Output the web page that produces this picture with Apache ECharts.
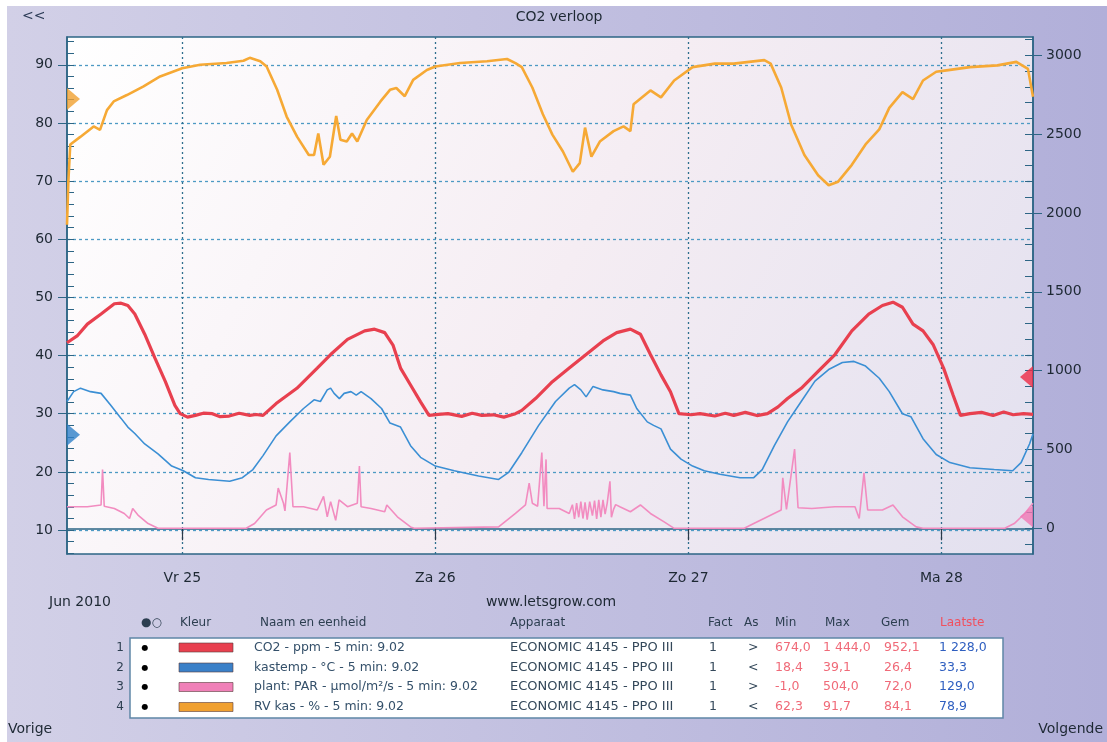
<!DOCTYPE html>
<html><head><meta charset="utf-8">
<script src="https://cdn.jsdelivr.net/npm/echarts@6/dist/echarts.min.js"></script>
<style>html,body{margin:0;padding:0;background:#fff;} #c{width:1107px;height:742px;}</style>
</head><body><div id="c"></div>
<script>
// ---------- axis / tick data ----------
const xMinHour = 13.07;            // 24 Jun ~13:04 (hours from 24 Jun 00:00)
const xMaxHour = 104.68;           // 28 Jun ~08:41
const dayTicks = [24, 48, 72, 96];
const dayLabels = ['Vr 25', 'Za 26', 'Zo 27', 'Ma 28'];
const leftTicks = [10, 20, 30, 40, 50, 60, 70, 80, 90];
const leftMinorTicks = [6,8,10,12,14,16,18,20,22,24,26,28,30,32,34,36,38,40,42,44,46,48,50,52,54,56,58,60,62,64,66,68,70,72,74,76,78,80,82,84,86,88,90,92,94];
const rightTicks = [0, 500, 1000, 1500, 2000, 2500, 3000];
const rightMinorTicks = [-100,0,100,200,300,400,500,600,700,800,900,1000,1100,1200,1300,1400,1500,1600,1700,1800,1900,2000,2100,2200,2300,2400,2500,2600,2700,2800,2900,3000,3100];

// ---------- series data (hours from 24 Jun 2010 00:00, value) ----------
// RV kas - % (left axis)
const rvHours = [13.07,13.2,13.38,14.33,15.6,16.2,16.86,17.5,18.75,20.33,21.9,24,25.7,28.2,29.8,30.4,31.4,32,33,33.9,34.9,36,36.5,36.9,37.4,38,38.6,39,39.6,40.1,40.6,41.5,42.8,43.7,44.3,45.1,45.9,47.2,48,50.35,52.9,54.8,55.6,56.2,57.2,58.2,59.1,60.1,61.04,61.7,62.2,62.8,63.6,64.9,65.85,66.5,66.8,68.4,69.4,70.65,72.4,74.5,76.3,79.2,79.8,80.8,81.75,83,84.3,85.3,86.2,87.5,88.8,90.1,91.05,92.3,93.3,94.25,95.5,96.3,98.7,101.3,103.1,104.2,104.68];
const rvValues = [62.5,70,76.3,77.6,79.4,78.8,82.2,83.7,84.8,86.3,88,89.4,90,90.3,90.7,91.2,90.6,89.7,85.7,81.1,77.6,74.5,74.5,78.2,72.8,74.2,81.2,77.1,76.8,78.2,76.8,80.5,83.7,85.7,86,84.6,87.4,89.1,89.7,90.3,90.6,91,90.3,89.6,86.1,81.5,78,75.1,71.6,73.1,79.2,74.2,76.8,78.6,79.4,78.6,83.2,85.6,84.4,87.3,89.6,90.2,90.2,90.8,90.2,86.1,79.7,74.5,71,69.3,69.9,72.8,76.3,78.9,82.6,85.3,84.1,87.3,88.8,89,89.6,89.9,90.5,89.3,84.5];
// kastemp - °C (left axis)
const tempHours = [13.07,13.7,14.35,15.3,16.3,17.2,18.2,18.84,19.5,20.44,21.7,23,24.1,25.25,26.5,28.5,29.7,30.7,31.66,32.9,34.2,35.5,36.5,37.1,37.75,38.07,38.4,38.9,39.35,40,40.5,40.96,41.9,42.9,43.7,44.7,45.65,46.6,48,49.8,52.1,54,54.95,56.2,57.8,59.4,60.7,61.2,61.8,62.3,62.96,63.9,64.9,65.5,66.5,67.1,68.1,68.7,69.4,70.3,71.3,72.4,73.5,75,76.9,78.2,79,80.15,81.4,82.7,84,85.3,86.6,87.7,88.8,90.1,91.05,92.3,93.1,94.25,95.5,96.8,98.7,101,102.75,103.55,104.35,104.68];
const tempValues = [32.1,33.8,34.4,33.8,33.5,31.5,29.2,27.7,26.6,24.8,23.1,21,20.2,19,18.7,18.4,19,20.4,22.8,26.2,28.6,30.9,32.4,32.1,34.1,34.4,33.5,32.6,33.5,33.8,33.2,33.8,32.6,30.9,28.4,27.7,24.5,22.5,21,20.2,19.3,18.7,19.9,23.3,28,32.1,34.4,35,34.1,32.9,34.7,34.1,33.8,33.5,33.2,30.9,28.6,28,27.4,23.9,22.2,21,20.2,19.6,19,19,20.4,24.5,28.6,32.1,35.6,37.6,38.8,39,38.2,36.1,33.8,30,29.5,25.7,23,21.6,20.7,20.4,20.2,21.6,24.8,26.5];
// CO2 - ppm (right axis)
const co2Hours = [13.07,14.03,15,16.3,17.56,18.2,18.84,19.5,20.44,21.4,22.4,23.3,23.8,24.5,25.25,26,26.85,27.6,28.45,29.4,30.4,31,31.66,32.9,34.87,36.8,38.07,39.67,41.3,42.24,43.2,44,44.7,45.65,46.6,47.4,48.3,49.2,50.5,51.5,52.4,53.5,54.5,55.6,56.2,57.5,59.1,60.7,62.3,63.9,65.2,66.5,67.45,68.4,69.4,70.3,71.1,72.25,73.1,74.5,75.5,76.3,77.4,78.5,79.5,80.5,81.4,82.7,84.3,85.9,87.5,89.1,90.4,91.4,92.3,93.3,94.25,95.2,96.2,97.1,97.8,98.7,99.8,100.9,101.9,102.8,103.8,104.68];
const co2Values = [1177,1220,1295,1359,1424,1428,1413,1359,1231,1081,930,780,727,705,716,730,727,708,712,730,716,722,716,791,888,1016,1102,1198,1252,1263,1241,1160,1016,909,802,716,722,727,710,730,716,720,705,727,748,823,930,1016,1102,1188,1241,1263,1231,1102,973,866,727,720,727,712,730,716,735,715,727,770,823,888,995,1102,1252,1359,1413,1434,1402,1295,1252,1166,1016,845,716,727,735,715,738,720,727,722];
// plant PAR - µmol/m²/s (right axis)
const parHours = [13.07,15,16.3,16.44,16.6,17.56,18.5,19,19.3,19.8,20.76,21.7,25.25,30.06,30.86,31.98,32.9,33.1,33.6,33.74,34.2,34.5,35.5,36.8,37.4,37.75,38.07,38.55,38.87,39.67,40.6,40.8,40.96,41.9,43.2,43.4,44.4,45.65,46,54,55.6,56.55,56.9,57.2,57.7,58.1,58.3,58.5,58.6,59.75,60.7,61,61.2,61.4,61.6,61.8,62,62.2,62.4,62.64,62.9,63.1,63.3,63.5,63.7,63.9,64.1,64.3,64.56,64.7,64.9,65.1,65.5,66.5,67.45,68.4,69.7,70.65,77.3,78.2,79.5,80.8,80.95,81.3,82.07,82.4,83.7,85.9,87.8,88.2,88.65,89,90.4,91.4,92.3,93.6,94.25,102,102.9,103.9,104.68];
const parValues = [137,137,148,373,140,126,94,62,126,84,30,0,0,0,30,116,148,255,159,110,480,137,137,116,202,73,169,51,180,137,159,395,137,126,105,148,73,9,0,9,94,148,287,159,140,480,140,437,126,126,94,150,60,159,70,170,62,165,55,169,80,175,60,180,70,180,90,160,298,70,120,150,137,105,148,94,41,0,0,30,73,116,320,120,502,130,126,137,137,62,352,116,116,148,73,9,0,0,30,94,159];

// value markers on the axes
const leftMarkerValues = [84.1, 26.4];     // RV, kastemp
const rightMarkerValues = [960, 75];       // CO2, PAR

// ---------- legend table ----------
const rowNames = ['CO2 - ppm - 5 min: 9.02', 'kastemp - \u00B0C - 5 min: 9.02', 'plant: PAR - \u00B5mol/m\u00B2/s - 5 min: 9.02', 'RV kas - % - 5 min: 9.02'];
const rowDevices = ['ECONOMIC 4145 - PPO III', 'ECONOMIC 4145 - PPO III', 'ECONOMIC 4145 - PPO III', 'ECONOMIC 4145 - PPO III'];
const rowFact = ['1', '1', '1', '1'];
const rowAxis = ['>', '<', '>', '<'];
const rowMin = ['674,0', '18,4', '-1,0', '62,3'];
const rowMax = ['1 444,0', '39,1', '504,0', '91,7'];
const rowGem = ['952,1', '26,4', '72,0', '84,1'];
const rowLast = ['1 228,0', '33,3', '129,0', '78,9'];
const headers = ['\u25CF\u25CB', 'Kleur', 'Naam en eenheid', 'Apparaat', 'Fact', 'As', 'Min', 'Max', 'Gem', 'Laatste'];

const cRed = '#e8404f', cBlue = '#3b8fd4', cPink = '#f28cc0', cOrange = '#f6a935';
const swatch = [cRed, '#3a80c8', '#f080b8', '#f0a030'];
const FONT = '"DejaVu Sans", sans-serif';
const txtCol = '#1d2833';

function pairs(hs, vs) { return hs.map((h, i) => [h, vs[i]]); }

const chart = echarts.init(document.getElementById('c'), null, {renderer: 'canvas', width: 1107, height: 742});

const graphics = [];
graphics.push({type: 'rect', z: -10, silent: true, shape: {x: 7, y: 6, width: 1100, height: 736},
  style: {fill: new echarts.graphic.LinearGradient(0, 0, 1, 0, [{offset: 0, color: '#d2d0e7'}, {offset: 1, color: '#b1afd9'}])}});
graphics.push({type: 'rect', z: -9, silent: true, shape: {x: 67, y: 37, width: 966, height: 517},
  style: {fill: new echarts.graphic.LinearGradient(0, 0, 1, 1, [{offset: 0, color: '#ffffff'}, {offset: 0.5, color: '#f5edf3'}, {offset: 1, color: '#e2e0ef'}])}});
function txt(text, x, y, size, color, align, weight) {
  graphics.push({type: 'text', x: x, y: y, z: 10, silent: true,
    style: {text: text, fill: color || txtCol, font: (weight || 'normal') + ' ' + size + 'px ' + FONT,
      textAlign: align || 'left', textVerticalAlign: 'middle'}});
}
txt('<<', 22, 16, 14, '#2a3a55');
txt('CO2 verloop', 559, 17, 14, txtCol, 'center');
txt('Jun 2010', 49, 602, 14, txtCol);
txt('www.letsgrow.com', 551, 602, 14, txtCol, 'center');
txt('Vorige', 8, 729, 14, txtCol);
txt('Volgende', 1103, 729, 14, txtCol, 'right');

// table
const hx = [141, 180, 260, 510, 708, 744, 775, 825, 881, 940];
headers.forEach((h, i) => txt(h, hx[i], 623, 12, i === 9 ? '#f0505e' : '#2c3e50'));
graphics.push({type: 'rect', z: 5, silent: true, shape: {x: 130, y: 638, width: 873, height: 80},
  style: {fill: '#ffffff', stroke: '#5f86a6', lineWidth: 1.5}});
const rowY = [647.5, 667.5, 687, 707];
rowNames.forEach((n, i) => {
  const y = rowY[i];
  txt(String(i + 1), 120, y, 12, '#2c3e50', 'center');
  txt('\u25CF', 145, y, 8, '#000000', 'center');
  graphics.push({type: 'rect', z: 10, silent: true, shape: {x: 179, y: y - 4.5, width: 54, height: 9},
    style: {fill: swatch[i], stroke: 'rgba(90,60,60,0.6)', lineWidth: 1}});
  txt(n, 254, y, 12.5, '#34506a');
  txt(rowDevices[i], 510, y, 13, '#34485a');
  txt(rowFact[i], 709, y, 12.5, '#34485a');
  txt(rowAxis[i], 748, y, 12.5, '#34485a');
  txt(rowMin[i], 775, y, 12.5, '#f06a78');
  txt(rowMax[i], 823, y, 12.5, '#f06a78');
  txt(rowGem[i], 884, y, 12.5, '#f06a78');
  txt(rowLast[i], 939, y, 12.5, '#2f5fc0');
});

const axisCol = '#2d6585';
const labelStyle = {color: txtCol, fontSize: 14, fontFamily: FONT};

const option = {
  backgroundColor: '#ffffff',
  animation: false,
  graphic: graphics,
  grid: {left: 67, top: 37, width: 966, height: 517, show: true, borderColor: axisCol, borderWidth: 1.5, backgroundColor: 'transparent'},
  xAxis: [{
    type: 'value', min: xMinHour, max: xMaxHour, position: 'bottom',
    axisLine: {show: true, lineStyle: {color: axisCol, width: 1.5}},
    axisTick: {show: true, customValues: dayTicks, length: 12, lineStyle: {color: '#2a3a4a', width: 1.2}},
    axisLabel: Object.assign({customValues: dayTicks, margin: 17, formatter: v => dayLabels[dayTicks.indexOf(v)]}, labelStyle),
    splitLine: {show: true, lineStyle: {color: '#2e6f8e', type: [2, 3], width: 1.3}}
  }],
  yAxis: [{
    type: 'value', position: 'left', min: 5.88, max: 94.78,
    axisLine: {show: true, lineStyle: {color: axisCol, width: 1.5}},
    axisTick: {show: true, customValues: leftTicks, length: 9, inside: false, lineStyle: {color: axisCol}},
    axisLabel: Object.assign({customValues: leftTicks, margin: 14, formatter: v => String(v)}, labelStyle),
    splitLine: {show: true, lineStyle: {color: '#4d9ac4', type: [3, 3], width: 1.3}}
  }, {
    type: 'value', position: 'left', min: 5.88, max: 94.78,
    axisLine: {show: false},
    axisTick: {show: true, customValues: leftMinorTicks, length: 7, inside: true, lineStyle: {color: axisCol}},
    axisLabel: {show: false}, splitLine: {show: false}
  }, {
    type: 'value', position: 'right', min: -163, max: 3116,
    axisLine: {show: true, lineStyle: {color: axisCol, width: 1.5}},
    axisTick: {show: true, customValues: rightTicks, length: 9, inside: false, lineStyle: {color: axisCol}},
    axisLabel: Object.assign({customValues: rightTicks, margin: 13, formatter: v => String(v)}, labelStyle),
    splitLine: {show: false}
  }, {
    type: 'value', position: 'right', min: -163, max: 3116,
    axisLine: {show: false},
    axisTick: {show: true, customValues: rightMinorTicks, length: 8, inside: true, lineStyle: {color: axisCol}},
    axisLabel: {show: false}, splitLine: {show: false}
  }],
  series: [
    {name: 'RV kas', type: 'line', yAxisIndex: 0, data: pairs(rvHours, rvValues), symbol: 'none', lineStyle: {color: cOrange, width: 2.6}, z: 3},
    {name: 'plant PAR', type: 'line', yAxisIndex: 2, data: pairs(parHours, parValues), symbol: 'none', lineStyle: {color: cPink, width: 1.6}, z: 3},
    {name: 'CO2', type: 'line', yAxisIndex: 2, data: pairs(co2Hours, co2Values), symbol: 'none', lineStyle: {color: cRed, width: 3.2}, z: 4},
    {name: 'kastemp', type: 'line', yAxisIndex: 0, data: pairs(tempHours, tempValues), symbol: 'none', lineStyle: {color: cBlue, width: 1.6}, z: 5},
    {type: 'scatter', yAxisIndex: 0, clip: false, silent: true, z: 6,
      data: [{value: [xMinHour, leftMarkerValues[0]], itemStyle: {color: '#f0a030'}}, {value: [xMinHour, leftMarkerValues[1]], itemStyle: {color: '#2f7fc8'}}],
      symbol: 'path://M0,0L10,5L0,10Z', symbolSize: [13, 22], symbolOffset: [6.5, 0]},
    {type: 'scatter', yAxisIndex: 2, clip: false, silent: true, z: 6,
      data: [{value: [xMaxHour, rightMarkerValues[0]], itemStyle: {color: '#ee2a45'}}, {value: [xMaxHour, rightMarkerValues[1]], itemStyle: {color: '#f078b4'}}],
      symbol: 'path://M10,0L0,5L10,10Z', symbolSize: [13, 22], symbolOffset: [-6.5, 0]}
  ]
};
chart.setOption(option);
</script>
</body></html>
